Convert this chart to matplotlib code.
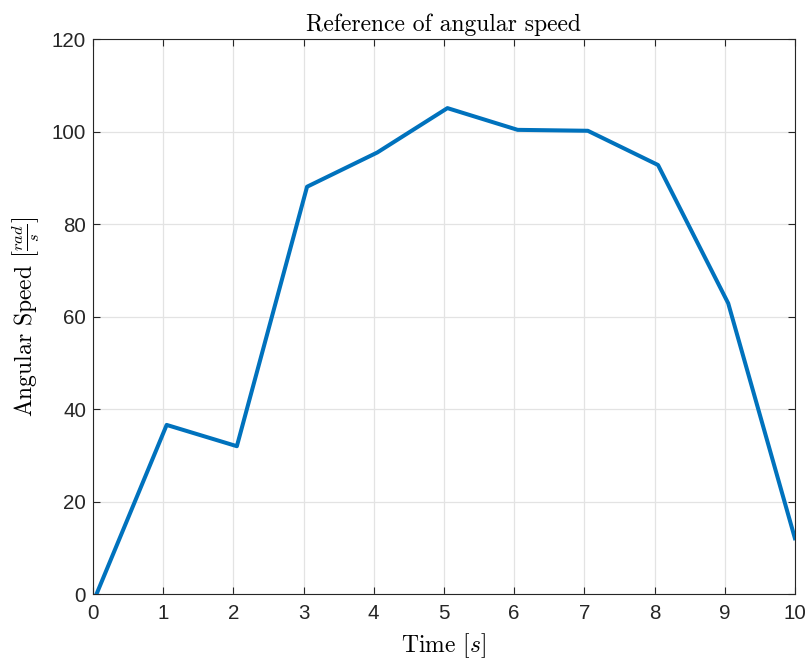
import matplotlib
matplotlib.use('Agg')
import matplotlib.pyplot as plt

# Datos
tiempo = [0.05, 1.05, 2.05, 3.05, 4.05, 5.05, 6.05, 7.05, 8.05, 9.05, 10.0]
velocidad = [0.0, 36.6, 32.0, 88.1, 95.5, 105.1, 100.4, 100.2, 92.8, 62.9, 12.1]
xticks = list(range(0, 11))
yticks = [0, 20, 40, 60, 80, 100, 120]

plt.rcParams['mathtext.fontset'] = 'cm'
plt.rcParams['font.family'] = ['Liberation Sans', 'DejaVu Sans']

fig = plt.figure(figsize=(8.07, 6.6), dpi=100)
ax = fig.add_axes([0.1152, 0.0997, 0.8698, 0.8409])

ax.plot(tiempo, velocidad, color='#0072BD', linewidth=2.9, zorder=3)

ax.set_xlim(0, 10)
ax.set_ylim(0, 120)
ax.set_xticks(xticks)
ax.set_yticks(yticks)
ax.tick_params(direction='in', top=True, right=True, labelsize=14.8,
               colors='#262626', length=5, width=0.8, pad=5)
ax.tick_params(axis='x', pad=7)
ax.grid(True, color='#e3e3e3', linewidth=0.9)
ax.set_axisbelow(True)
for s in ax.spines.values():
    s.set_color('#262626')
    s.set_linewidth(0.8)

#Etiquetas estilo LaTeX
ax.set_title('Reference of angular speed', family='cmr10', fontsize=17, pad=6)
ax.set_xlabel(r'Time $[s]$', family='cmr10', fontsize=17, labelpad=6)
ax.set_ylabel(r'Angular Speed $\left[\frac{rad}{s}\right]$', family='cmr10',
              fontsize=17, labelpad=8)

fig.savefig('out.png', dpi=100)
